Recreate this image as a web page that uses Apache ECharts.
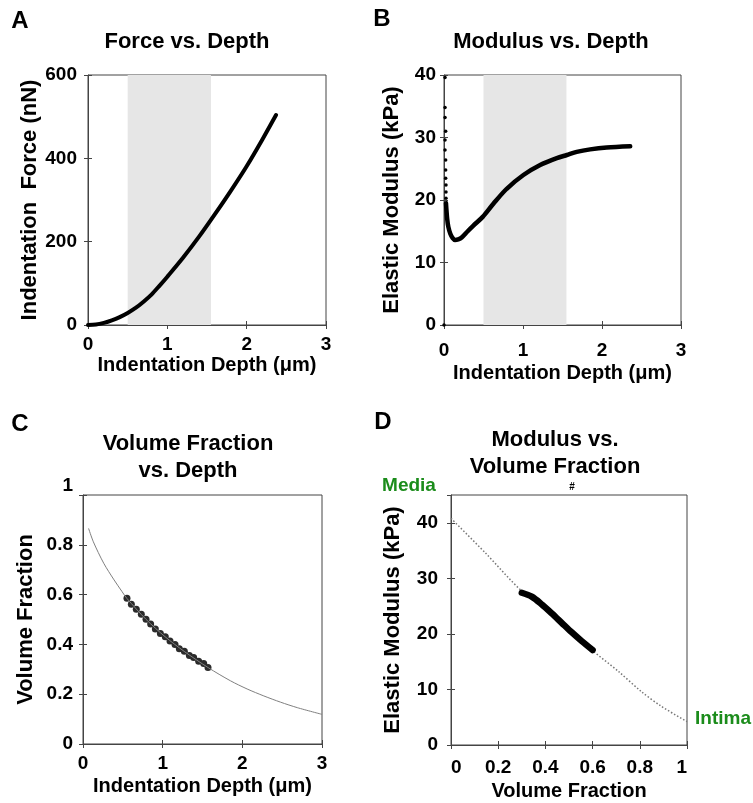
<!DOCTYPE html>
<html>
<head>
<meta charset="utf-8">
<title>Indentation analysis</title>
<script src="https://cdn.jsdelivr.net/npm/echarts@6/dist/echarts.min.js"></script>
<style>
  html, body { margin: 0; padding: 0; background: #fff; }
  #chart { width: 753px; height: 803px; }
</style>
</head>
<body>
<div id="chart"></div>
<script>
// A: force vs depth
const forceDepth = [0, 0.1, 0.2, 0.3, 0.4, 0.5, 0.6, 0.7, 0.8, 0.9, 1.0, 1.2, 1.4, 1.6, 1.8, 2.0, 2.2, 2.37];
const forceValues = [0, 1, 5, 11, 19, 29, 41, 56, 73, 94, 116, 162, 212, 266, 322, 381, 446, 504];
const shadeRange = [0.5, 1.55];

// B: modulus vs depth (main curve + noisy points near the surface)
const modDepth = [0.025, 0.04, 0.055, 0.08, 0.11, 0.14, 0.18, 0.224, 0.3, 0.372, 0.49, 0.625, 0.794, 1.005, 1.217, 1.428, 1.555, 1.68, 1.85, 2.06, 2.357];
const modValues = [19.5, 17.0, 15.7, 14.6, 13.9, 13.6, 13.7, 14.0, 15.0, 15.9, 17.3, 19.4, 21.8, 24.0, 25.6, 26.7, 27.2, 27.7, 28.1, 28.4, 28.6];
const noiseDepth = [0, 0.013, 0.013, 0.013, 0.021, 0.013, 0.013, 0.021, 0.021, 0.021, 0.025, 0.025, 0.025];
const noiseValues = [0, 39.6, 34.8, 33.2, 31.0, 29.6, 28.0, 26.4, 24.8, 23.5, 22.4, 21.3, 20.3];

// C: volume fraction vs depth
const vfCurveDepth = [0.07, 0.13, 0.26, 0.39, 0.49, 0.55, 0.79, 1.03, 1.27, 1.57, 1.85, 2.06, 2.27, 2.48, 2.69, 3.0];
const vfCurveValues = [0.866, 0.812, 0.726, 0.659, 0.612, 0.585, 0.501, 0.431, 0.372, 0.307, 0.254, 0.221, 0.193, 0.168, 0.146, 0.119];
const vfPointDepth = [0.552, 0.607, 0.669, 0.732, 0.791, 0.849, 0.908, 0.971, 1.033, 1.092, 1.155, 1.209, 1.272, 1.335, 1.389, 1.452, 1.515, 1.569];
const vfPointValues = [0.585, 0.561, 0.541, 0.521, 0.501, 0.482, 0.462, 0.444, 0.431, 0.414, 0.400, 0.383, 0.372, 0.355, 0.347, 0.332, 0.323, 0.307];

// D: modulus vs volume fraction
const emCurveFraction = [0, 0.145, 0.3, 0.45, 0.6, 0.708, 0.807, 0.89, 1.0];
const emCurveValues = [40.8, 34.6, 27.7, 22.8, 17.0, 13.3, 9.6, 7.0, 4.2];
const emFitFraction = [0.3, 0.342, 0.385, 0.427, 0.469, 0.511, 0.554, 0.6];
const emFitValues = [27.4, 26.7, 25.3, 23.7, 22.0, 20.3, 18.7, 17.1];

const zip = (xs, ys) => xs.map((x, i) => [x, ys[i]]);

const font = 'Liberation Sans';
const frame = '#444';
const labelStyle = { color: '#000', fontFamily: font, fontWeight: 'bold', fontSize: 19 };
const xNameStyle = { color: '#000', fontFamily: font, fontWeight: 'bold', fontSize: 20 };
const yNameStyle = { color: '#000', fontFamily: font, fontWeight: 'bold', fontSize: 22 };

const grids = [
  { left: 88, top: 75, width: 238, height: 250 },
  { left: 444, top: 75, width: 237, height: 250 },
  { left: 83, top: 495, width: 239, height: 249 },
  { left: 451, top: 495, width: 236, height: 250 }
];

// bottom/left axes carry labels, top/right only mirror the ticks
const mainAxis = (g, min, max, interval, name, gap, margin, nameStyle, extra) => Object.assign({
  type: 'value', gridIndex: g, min, max, interval,
  name, nameLocation: 'middle', nameGap: gap,
  nameTextStyle: nameStyle,
  axisLine: { onZero: false, lineStyle: { color: frame } },
  axisTick: { inside: true, length: 4, lineStyle: { color: frame } },
  axisLabel: Object.assign({ margin }, labelStyle),
  splitLine: { show: false }
}, extra || {});

const mirrorAxis = (g, min, max, interval, position) => ({
  type: 'value', gridIndex: g, min, max, interval, position,
  axisLine: { show: false },
  axisTick: { inside: true, length: 4, lineStyle: { color: frame } },
  axisLabel: { show: false },
  splitLine: { show: false }
});

const depthName = 'Indentation Depth (μm)';

const xAxis = [
  mainAxis(0, 0, 3, 1, depthName, 30, 10, xNameStyle),
  mirrorAxis(0, 0, 3, 1, 'top'),
  mainAxis(1, 0, 3, 1, depthName, 38, 16, xNameStyle),
  mirrorAxis(1, 0, 3, 1, 'top'),
  mainAxis(2, 0, 3, 1, depthName, 32, 10, xNameStyle),
  mirrorAxis(2, 0, 3, 1, 'top'),
  mainAxis(3, 0, 1, 0.2, 'Volume Fraction', 36, 13, xNameStyle,
    { axisLabel: Object.assign({ margin: 13, alignMinLabel: 'left', alignMaxLabel: 'right' }, labelStyle) }),
  mirrorAxis(3, 0, 1, 0.2, 'top')
];

const yAxis = [
  mainAxis(0, 0, 600, 200, 'Indentation  Force (nN)', 44, 11, yNameStyle),
  mirrorAxis(0, 0, 600, 200, 'right'),
  mainAxis(1, 0, 40, 10, 'Elastic Modulus (kPa)', 41, 8, yNameStyle),
  mirrorAxis(1, 0, 40, 10, 'right'),
  mainAxis(2, 0, 1, 0.2, 'Volume Fraction', 46, 10, yNameStyle,
    { axisLabel: Object.assign({ margin: 10, verticalAlignMaxLabel: 'bottom' }, labelStyle) }),
  mirrorAxis(2, 0, 1, 0.2, 'right'),
  mainAxis(3, 0, 45, 10, 'Elastic Modulus (kPa)', 47, 13, yNameStyle,
    { axisLabel: Object.assign({ margin: 13, showMaxLabel: false }, labelStyle) }),
  mirrorAxis(3, 0, 45, 10, 'right')
];

const shade = (g) => ({
  type: 'line', xAxisIndex: 2 * g, yAxisIndex: 2 * g, data: [], silent: true,
  markArea: {
    silent: true,
    itemStyle: { color: '#e6e6e6' },
    data: [[{ xAxis: shadeRange[0] }, { xAxis: shadeRange[1] }]]
  }
});

const series = [
  shade(0),
  {
    type: 'line', xAxisIndex: 0, yAxisIndex: 0, smooth: 0.3, showSymbol: false,
    lineStyle: { color: '#000', width: 4, cap: 'round' },
    data: zip(forceDepth, forceValues)
  },
  shade(1),
  {
    type: 'line', xAxisIndex: 2, yAxisIndex: 2, smooth: 0.3, showSymbol: false,
    lineStyle: { color: '#000', width: 4.5, cap: 'round' },
    data: zip(modDepth, modValues)
  },
  {
    type: 'scatter', xAxisIndex: 2, yAxisIndex: 2, symbolSize: 3.5,
    itemStyle: { color: '#000', opacity: 1 },
    data: zip(noiseDepth, noiseValues)
  },
  {
    type: 'line', xAxisIndex: 4, yAxisIndex: 4, smooth: 0.3, showSymbol: false,
    lineStyle: { color: '#808080', width: 1 },
    data: zip(vfCurveDepth, vfCurveValues)
  },
  {
    type: 'scatter', xAxisIndex: 4, yAxisIndex: 4, symbolSize: 7,
    itemStyle: { color: '#2b2b2b', opacity: 1 },
    data: zip(vfPointDepth, vfPointValues)
  },
  {
    type: 'line', xAxisIndex: 6, yAxisIndex: 6, smooth: 0.3, showSymbol: false,
    lineStyle: { color: '#777', width: 1.5, type: [1.5, 2] },
    data: zip(emCurveFraction, emCurveValues)
  },
  {
    type: 'line', xAxisIndex: 6, yAxisIndex: 6, smooth: 0.3, showSymbol: false,
    lineStyle: { color: '#000', width: 6.5, cap: 'round' },
    data: zip(emFitFraction, emFitValues)
  }
];

const text = (x, y, str, size, extra) => ({
  type: 'text', x, y,
  style: Object.assign({
    text: str, fill: '#000', font: `bold ${size}px "${font}"`,
    align: 'center', verticalAlign: 'middle', lineHeight: 27
  }, extra || {})
});

const green = '#1b8c1b';

const graphic = [
  text(20, 21, 'A', 24),
  text(382, 19, 'B', 24),
  text(20, 424, 'C', 24),
  text(383, 422, 'D', 24),
  text(187, 42, 'Force vs. Depth', 22),
  text(551, 42, 'Modulus vs. Depth', 22),
  text(188, 457, 'Volume Fraction\nvs. Depth', 22),
  text(555, 453, 'Modulus vs.\nVolume Fraction', 22),
  text(409, 486, 'Media', 19, { fill: green }),
  text(695, 719, 'Intima', 19, { fill: green, align: 'left' }),
  text(572, 487, '#', 10)
];

const chart = echarts.init(document.getElementById('chart'));
chart.setOption({
  animation: false,
  backgroundColor: '#fff',
  grid: grids.map(g => Object.assign({ show: true, borderColor: frame, borderWidth: 1 }, g)),
  xAxis,
  yAxis,
  series,
  graphic
});
</script>
</body>
</html>
